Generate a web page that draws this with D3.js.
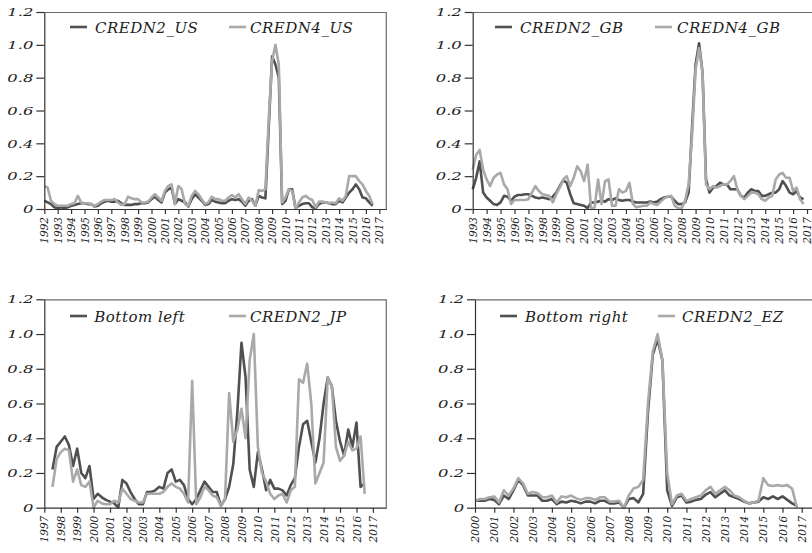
<!DOCTYPE html>
<html>
<head>
<meta charset="utf-8">
<script src="https://cdn.jsdelivr.net/npm/d3@7"></script>
<style>
  body { margin: 0; background: #fff; }
  svg { display: block; }
  .lbl { font-family: "DejaVu Serif", serif; font-style: italic; fill: #222; }
</style>
</head>
<body>
<div id="chart"></div>
<script>
// quarterly series, first value = first quarter given by *Start
var usStart = 1992.0;
var credn2US = [
  0.05, 0.04, 0.03, 0.01,  0.005, 0.01, 0.005, 0.01,  0.02, 0.025, 0.03, 0.035,
  0.035, 0.03, 0.03, 0.015,  0.02, 0.035, 0.045, 0.05,  0.045, 0.045, 0.05, 0.035,
  0.025, 0.025, 0.025, 0.03,  0.03, 0.035, 0.035, 0.04,  0.06, 0.075, 0.055, 0.04,
  0.1, 0.12, 0.13, 0.03,  0.06, 0.05, 0.04, 0.015,  0.06, 0.09, 0.07, 0.05,
  0.025, 0.03, 0.055, 0.045,  0.04, 0.035, 0.035, 0.05,  0.06, 0.055, 0.06, 0.045,
  0.02, 0.05, 0.06, 0.02,  0.08, 0.07, 0.065, 0.5,  0.93, 0.88, 0.8, 0.03,
  0.05, 0.12, 0.12, 0.005,  0.02, 0.03, 0.035, 0.035,  0.01, 0.005, 0.03, 0.04,
  0.04, 0.035, 0.03, 0.03,  0.05, 0.04, 0.07, 0.1,  0.12, 0.15, 0.12, 0.07,
  0.065, 0.04, 0.02
];
var credn4US = [
  0.14, 0.13, 0.05, 0.03,  0.02, 0.02, 0.02, 0.02,  0.03, 0.035, 0.08, 0.04,
  0.035, 0.035, 0.03, 0.02,  0.03, 0.045, 0.055, 0.055,  0.055, 0.06, 0.04, 0.025,
  0.03, 0.075, 0.065, 0.06,  0.06, 0.04, 0.04, 0.045,  0.07, 0.09, 0.07, 0.05,
  0.11, 0.14, 0.15, 0.03,  0.14, 0.12, 0.03, 0.02,  0.08, 0.11, 0.09, 0.06,
  0.03, 0.04, 0.075, 0.06,  0.06, 0.05, 0.05, 0.07,  0.085, 0.07, 0.09, 0.06,
  0.03, 0.07, 0.05, 0.02,  0.115, 0.11, 0.12, 0.55,  0.9, 1.0, 0.88, 0.04,
  0.07, 0.12, 0.11, 0.0,  0.04, 0.07, 0.08, 0.065,  0.055, 0.01, 0.045, 0.045,
  0.04, 0.035, 0.04, 0.035,  0.065, 0.05, 0.08, 0.2,  0.2, 0.2, 0.17, 0.15,
  0.11, 0.08, 0.03
];

var gbStart = 1993.0;
var credn2GB = [
  0.12, 0.19, 0.29, 0.1,  0.07, 0.05, 0.03, 0.025,  0.04, 0.08, 0.075, 0.05,
  0.075, 0.085, 0.085, 0.09,  0.09, 0.08, 0.07, 0.065,  0.07, 0.065, 0.06, 0.075,
  0.1, 0.14, 0.175, 0.16,  0.09, 0.035, 0.03, 0.025,  0.02, 0.005, 0.04, 0.04,
  0.045, 0.05, 0.045, 0.06,  0.055, 0.065, 0.055, 0.05,  0.055, 0.055, 0.045, 0.04,
  0.04, 0.04, 0.04, 0.045,  0.04, 0.045, 0.06, 0.07,  0.075, 0.075, 0.05, 0.03,
  0.03, 0.04, 0.1, 0.5,  0.88, 1.01, 0.83, 0.18,  0.1, 0.13, 0.14, 0.16,
  0.15, 0.15, 0.12, 0.12,  0.12, 0.08, 0.07, 0.1,  0.12, 0.11, 0.11, 0.08,
  0.08, 0.09, 0.1, 0.1,  0.12, 0.17, 0.14, 0.1,  0.09, 0.11, 0.07, 0.06
];
var credn4GB = [
  0.24, 0.33, 0.36, 0.24,  0.18, 0.14, 0.19, 0.21,  0.22, 0.15, 0.12, 0.03,
  0.055, 0.055, 0.055, 0.055,  0.06, 0.1, 0.14, 0.11,  0.09, 0.085, 0.08, 0.04,
  0.09, 0.13, 0.18, 0.2,  0.14, 0.19, 0.26, 0.23,  0.17, 0.27, 0.0, 0.01,
  0.18, 0.03, 0.17, 0.18,  0.02, 0.02, 0.12, 0.1,  0.11, 0.16, 0.03, 0.01,
  0.015, 0.02, 0.02, 0.04,  0.03, 0.025, 0.045, 0.065,  0.075, 0.08, 0.02, 0.005,
  0.005, 0.05, 0.15, 0.45,  0.85, 0.98, 0.83, 0.15,  0.12, 0.14, 0.13, 0.14,
  0.15, 0.15, 0.17, 0.2,  0.12, 0.08, 0.06, 0.08,  0.1, 0.1, 0.09, 0.06,
  0.05, 0.07, 0.08, 0.18,  0.21, 0.22, 0.19, 0.19,  0.11, 0.13, 0.06, 0.03
];

var jpStart = 1997.5;
var bottomLeft = [
  0.22, 0.35,  0.38, 0.41, 0.36, 0.24,  0.34, 0.2, 0.17, 0.24,  0.05, 0.08, 0.06, 0.045,
  0.035, 0.025, 0.0, 0.16,  0.14, 0.09, 0.05, 0.02,  0.02, 0.09, 0.09, 0.1,
  0.12, 0.11, 0.2, 0.22,  0.15, 0.16, 0.13, 0.05,  0.02, 0.05, 0.1, 0.15,
  0.12, 0.09, 0.09, 0.01,  0.05, 0.12, 0.25, 0.55,  0.95, 0.75, 0.22, 0.12,
  0.32, 0.22, 0.1, 0.16,  0.11, 0.11, 0.1, 0.07,  0.13, 0.17, 0.35, 0.48,
  0.5, 0.38, 0.26, 0.4,  0.6, 0.75, 0.7, 0.5,  0.38, 0.3, 0.45, 0.35,
  0.49, 0.12, 0.14
];
var credn2JP = [
  0.12, 0.28,  0.32, 0.34, 0.33, 0.15,  0.22, 0.13, 0.12, 0.15,  0.0, 0.04, 0.025, 0.02,
  0.02, 0.04, 0.03, 0.11,  0.08, 0.05, 0.04, 0.03,  0.03, 0.08, 0.08, 0.08,
  0.08, 0.09, 0.12, 0.14,  0.12, 0.11, 0.08, 0.03,  0.73, 0.02, 0.06, 0.12,
  0.1, 0.07, 0.06, 0.01,  0.05, 0.66, 0.38, 0.45,  0.57, 0.4, 0.85, 1.0,
  0.35, 0.2, 0.15, 0.08,  0.05, 0.07, 0.08, 0.03,  0.1, 0.12, 0.74, 0.72,
  0.83, 0.6, 0.14, 0.2,  0.26, 0.75, 0.7, 0.35,  0.27, 0.3, 0.38, 0.33,
  0.34, 0.41, 0.08
];

var ezStart = 2000.0;
var bottomRight = [
  0.04, 0.04, 0.04, 0.05,  0.045, 0.02, 0.07, 0.05,  0.1, 0.16, 0.13, 0.07,
  0.07, 0.07, 0.04, 0.04,  0.05, 0.02, 0.035, 0.03,  0.04, 0.035, 0.025, 0.035,
  0.035, 0.025, 0.04, 0.04,  0.025, 0.025, 0.03, 0.0,  0.05, 0.055, 0.03, 0.08,
  0.55, 0.88, 0.97, 0.85,  0.1, 0.01, 0.06, 0.07,  0.03, 0.035, 0.045, 0.05,
  0.075, 0.09, 0.06, 0.08,  0.1, 0.07, 0.06, 0.05,  0.035, 0.025, 0.03, 0.035,
  0.06, 0.05, 0.065, 0.05,  0.065, 0.045, 0.025, 0.01
];
var credn2EZ = [
  0.04, 0.05, 0.05, 0.06,  0.065, 0.03, 0.1, 0.07,  0.11, 0.17, 0.14, 0.08,
  0.09, 0.085, 0.06, 0.06,  0.07, 0.03, 0.065, 0.06,  0.07, 0.055, 0.045, 0.055,
  0.055, 0.045, 0.06, 0.06,  0.035, 0.035, 0.04, 0.0,  0.07, 0.11, 0.12, 0.16,
  0.6, 0.9, 1.0, 0.85,  0.2, 0.02, 0.07, 0.08,  0.04, 0.05, 0.06, 0.07,
  0.1, 0.12, 0.08, 0.1,  0.12, 0.1, 0.07, 0.06,  0.04, 0.025, 0.03, 0.04,
  0.17, 0.13, 0.125, 0.13,  0.125, 0.13, 0.11, 0.0
];

var yTicks = [0, 0.2, 0.4, 0.6, 0.8, 1.0, 1.2];
var usTickYears = d3.range(1992, 2018);
var gbTickYears = d3.range(1993, 2018);
var jpTickYears = d3.range(1997, 2018);
var ezTickYears = d3.range(2000, 2018);

var darkColor = "#505050";
var lightColor = "#a9a9a9";

// turn a quarterly array into {t, v} points
function quarterly(start, values) {
  return values.map(function(v, i) { return { t: start + i / 4, v: v }; });
}

var panels = [
  { left: 44.3, top: 12, width: 342, height: 197, x0: 1992, ticks: usTickYears, pxYear: 13.4,
    series: [quarterly(usStart, credn2US), quarterly(usStart, credn4US)],
    names: ["CREDN2_US", "CREDN4_US"], leg: [25.7, 50.7, 184.7, 205.7], legY: 15 },
  { left: 472.7, top: 12, width: 342, height: 197, x0: 1993, ticks: gbTickYears, pxYear: 13.93,
    series: [quarterly(gbStart, credn2GB), quarterly(gbStart, credn4GB)],
    names: ["CREDN2_GB", "CREDN4_GB"], leg: [22.3, 47.3, 182.3, 204.3], legY: 15 },
  { left: 44.3, top: 299.3, width: 342, height: 208.4, x0: 1997, ticks: jpTickYears, pxYear: 16.43,
    series: [quarterly(jpStart, bottomLeft), quarterly(jpStart, credn2JP)],
    names: ["Bottom left", "CREDN2_JP"], leg: [25.7, 50, 184.7, 205.7], legY: 16.7 },
  { left: 475, top: 299.3, width: 342, height: 208.4, x0: 2000, ticks: ezTickYears, pxYear: 19.22,
    series: [quarterly(ezStart, bottomRight), quarterly(ezStart, credn2EZ)],
    names: ["Bottom right", "CREDN2_EZ"], leg: [25, 50, 183, 207], legY: 16.7 }
];

var svg = d3.select("#chart").append("svg")
    .attr("width", 812)
    .attr("height", 553);

panels.forEach(drawPanel);

function drawPanel(p) {
  var g = svg.append("g")
      .attr("transform", "translate(" + p.left + "," + p.top + ")");

  var x = d3.scaleLinear()
      .domain([p.x0, p.x0 + p.width / p.pxYear])
      .range([0, p.width]);
  var y = d3.scaleLinear().domain([0, 1.2]).range([p.height, 0]);

  // frame: top and right edges
  g.append("path")
      .attr("d", "M0,0.5H" + p.width + "V" + p.height)
      .attr("fill", "none")
      .attr("stroke", "#6a6a6a")
      .attr("stroke-width", 1.2);

  // lines
  var line = d3.line()
      .x(function(d) { return x(d.t); })
      .y(function(d) { return y(d.v); });
  var colors = [darkColor, lightColor];
  p.series.forEach(function(s, i) {
    g.append("path")
        .datum(s)
        .attr("fill", "none")
        .attr("stroke", colors[i])
        .attr("stroke-width", 2.6)
        .attr("stroke-linejoin", "round")
        .attr("d", line);
  });

  // y axis (labels are drawn a bit wide, like the original)
  var sx = 1.42;
  var ya = g.append("g")
      .call(d3.axisLeft(y).tickValues(yTicks).tickSize(8).tickSizeOuter(0).tickPadding(3)
        .tickFormat(function(d) { return d === 0 ? "0" : d3.format(".1f")(d); }));
  ya.select(".domain").attr("stroke", "#333").attr("stroke-width", 1.2);
  ya.selectAll(".tick line").attr("stroke", "#333").attr("stroke-width", 1.2);
  ya.selectAll("text")
      .attr("class", "lbl")
      .style("font-size", "11.5px")
      .attr("x", -11 / sx)
      .attr("transform", "scale(" + sx + ",1)");

  // x axis
  var xa = g.append("g")
      .attr("transform", "translate(0," + p.height + ")")
      .call(d3.axisBottom(x).tickValues(p.ticks).tickSize(5).tickSizeOuter(0)
        .tickFormat(d3.format("d")));
  xa.select(".domain").attr("stroke", "#333").attr("stroke-width", 1.2);
  xa.selectAll(".tick line").attr("stroke", "#333").attr("stroke-width", 1.2);
  xa.selectAll("text")
      .attr("class", "lbl")
      .style("font-size", "10.5px")
      .attr("transform", "rotate(-90)")
      .attr("text-anchor", "end")
      .attr("x", -8)
      .attr("y", 0)
      .attr("dy", "0.35em");

  // legend
  var lg = g.append("g").attr("transform", "translate(0," + p.legY + ")");
  [0, 1].forEach(function(i) {
    var lx = p.leg[i * 2], tx = p.leg[i * 2 + 1];
    lg.append("line")
        .attr("x1", lx).attr("x2", lx + 17)
        .attr("y1", 0).attr("y2", 0)
        .attr("stroke", colors[i])
        .attr("stroke-width", 2.6);
    lg.append("text")
        .attr("class", "lbl")
        .attr("x", tx)
        .attr("y", 5.5)
        .style("font-size", "15px")
        .style("letter-spacing", "0.5px")
        .text(p.names[i]);
  });
}
</script>
</body>
</html>
